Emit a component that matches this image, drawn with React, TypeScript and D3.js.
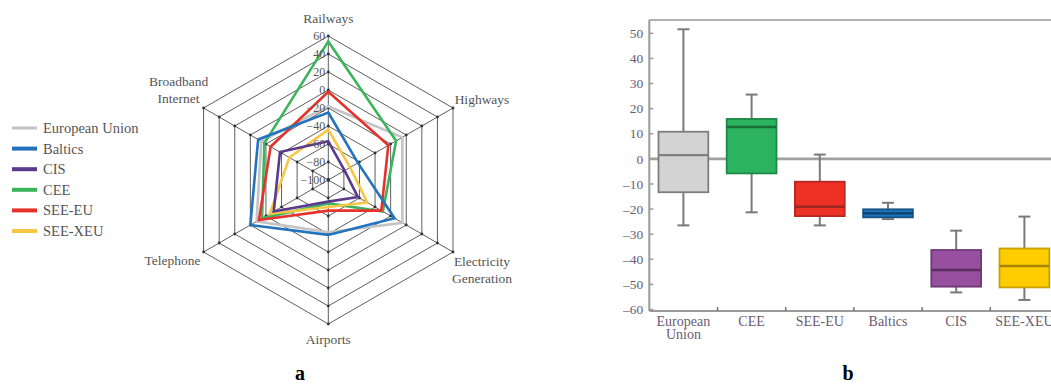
import React from "react";
import * as d3 from "d3";

// ---------- Radar data (a) ----------
const radarAxes = ["Railways", "Highways", "Electricity Generation", "Airports", "Telephone", "Broadband Internet"];
const radarTicks = [60, 40, 20, 0, -20, -40, -60, -80, -100];
const seriesNames = ["European Union", "Baltics", "CIS", "CEE", "SEE-EU", "SEE-XEU"];
const euValues = [-18, -5, -5, -42, -8, -14];
const balticsValues = [-25, -62, -15, -39, 0, -10];
const cisValues = [-57, -79, -62, -76, -30, -38];
const ceeValues = [54, -13, -30, -74, -15, -18];
const seeEuValues = [-2, -23, -32, -66, -11, -26];
const seeXeuValues = [-44, -72, -50, -70, -25, -50];

// ---------- Box plot data (b) ----------
const boxCategories = ["European Union", "CEE", "SEE-EU", "Baltics", "CIS", "SEE-XEU"];
const boxMin = [-26.5, -21.3, -26.5, -24, -53.2, -56.2];
const boxQ1 = [-13.3, -5.8, -22.8, -23.3, -50.9, -51.2];
const boxMedian = [1.5, 12.7, -19.1, -21.7, -44.3, -42.7];
const boxQ3 = [10.8, 15.9, -9.1, -20.1, -36.3, -35.7];
const boxMax = [51.6, 25.6, 1.7, -17.5, -28.6, -23];
const boxTicks = [50, 40, 30, 20, 10, 0, -10, -20, -30, -40, -50, -60];

// ---------- styles ----------
const seriesColors = ["#c4c4c4", "#2273bd", "#5b3a8e", "#3bb55c", "#e5322b", "#f7c645"];
const boxFill = ["#d3d3d3", "#2bb35f", "#ee3124", "#1f74b8", "#974f9f", "#ffcc00"];
const boxStroke = ["#7d7d7d", "#1f8a47", "#b32a22", "#155589", "#6f3a75", "#c9a100"];
const boxMedianColor = ["#808080", "#1a6b38", "#9c2620", "#0e426c", "#5a2e5f", "#a88400"];

const FONT = "'Liberation Serif', 'Times New Roman', serif";

function Radar() {
  const cx = 328.3, cy = 180, R = 144;
  const r = d3.scaleLinear().domain([-100, 60]).range([0, R]);
  const n = radarAxes.length;
  const angle = (i: number) => (i * 2 * Math.PI) / n;
  const pt = (i: number, rad: number): [number, number] => [
    cx + rad * Math.sin(angle(i)),
    cy - rad * Math.cos(angle(i)),
  ];
  const radial = d3
    .lineRadial<number>()
    .angle((_, i) => angle(i))
    .radius((d) => r(d))
    .curve(d3.curveLinearClosed);
  const allSeries = [euValues, balticsValues, cisValues, ceeValues, seeEuValues, seeXeuValues];
  const drawOrder = [0, 3, 5, 2, 4, 1];
  const rings = radarTicks.filter((t) => t > -100);

  // label layout: [dx, dy of first baseline, anchor]
  const labelLayout: [number, number, string][] = [
    [0, -13, "middle"],
    [29, -4, "middle"],
    [29, 14, "middle"],
    [0, 20, "middle"],
    [-31, 13, "middle"],
    [-25, -22, "middle"],
  ];

  return (
    <g>
      {rings.map((t) => (
        <path
          key={"ring" + t}
          d={radial(radarAxes.map(() => t)) || ""}
          transform={`translate(${cx},${cy})`}
          fill="none"
          stroke="#5e5e5e"
          strokeWidth={1}
        />
      ))}
      {radarAxes.map((_, i) => {
        const [x, y] = pt(i, R);
        return <line key={"sp" + i} x1={cx} y1={cy} x2={x} y2={y} stroke="#5e5e5e" strokeWidth={1} />;
      })}
      {radarAxes.map((_, i) =>
        radarTicks.map((t) => {
          const [x, y] = pt(i, r(t));
          return <circle key={"dot" + i + "_" + t} cx={x} cy={y} r={1.4} fill="#333" />;
        })
      )}
      {drawOrder.map((k) => (
        <path
          key={"s" + k}
          d={radial(allSeries[k]) || ""}
          transform={`translate(${cx},${cy})`}
          fill="none"
          stroke={seriesColors[k]}
          strokeWidth={2.6}
          strokeLinejoin="miter"
        />
      ))}
      {radarTicks.map((t) => (
        <text
          key={"tl" + t}
          x={cx - 3}
          y={cy - r(t)}
          dy="0.35em"
          textAnchor="end"
          fontSize={12}
          fill="#555"
          fontFamily={FONT}
        >
          {t < 0 ? "\u2212" + Math.abs(t) : String(t)}
        </text>
      ))}
      {radarAxes.map((name, i) => {
        const [x, y] = pt(i, R);
        const [dx, dy, anchor] = labelLayout[i];
        const words = name === "Electricity Generation" || name === "Broadband Internet" ? name.split(" ") : [name];
        return (
          <text key={"al" + i} x={x + dx} y={y + dy} textAnchor={anchor as any} fontSize={13.5} fill="#555" fontFamily={FONT}>
            {words.map((w, j) => (
              <tspan key={j} x={x + dx} dy={j === 0 ? 0 : 17}>
                {w}
              </tspan>
            ))}
          </text>
        );
      })}
      {seriesNames.map((s, k) => {
        const y = 128 + k * 20.6;
        return (
          <g key={"lg" + k}>
            <line x1={12} x2={37} y1={y} y2={y} stroke={seriesColors[k]} strokeWidth={k === 0 ? 3 : 4} />
            <text x={43} y={y} dy="0.35em" fontSize={14.5} fill="#555" fontFamily={FONT}>
              {s}
            </text>
          </g>
        );
      })}
      <text x={300} y={380} textAnchor="middle" fontSize={20} fontWeight="bold" fontFamily={FONT} fill="#000">
        a
      </text>
    </g>
  );
}

function BoxPlot() {
  const left = 649.3;
  const step = 68.2;
  const x = d3
    .scaleBand<string>()
    .domain(boxCategories)
    .range([left, left + step * boxCategories.length])
    .paddingInner(0)
    .paddingOuter(0);
  const y = d3.scaleLinear().domain([-60.6, 55.3]).range([311, 20]);
  const bw = x.bandwidth();
  const boxW = bw * 0.73;
  const capW = 12;
  const labelColor = "#6a5c72";
  const axisColor = "#9a9a9a";
  return (
    <g>
      <line x1={left} x2={1060} y1={y(55.3)} y2={y(55.3)} stroke="#b0b0b0" strokeWidth={2.2} />
      <line x1={left} x2={1060} y1={y(0)} y2={y(0)} stroke="#a0a0a0" strokeWidth={2.6} />
      {boxCategories.map((c, i) => {
        const cxp = (x(c) as number) + bw / 2;
        return (
          <g key={"b" + i}>
            <line x1={cxp} x2={cxp} y1={y(boxMax[i])} y2={y(boxQ3[i])} stroke="#7a7a7a" strokeWidth={2} />
            <line x1={cxp} x2={cxp} y1={y(boxQ1[i])} y2={y(boxMin[i])} stroke="#7a7a7a" strokeWidth={2} />
            <line x1={cxp - capW / 2} x2={cxp + capW / 2} y1={y(boxMax[i])} y2={y(boxMax[i])} stroke="#7a7a7a" strokeWidth={2} />
            <line x1={cxp - capW / 2} x2={cxp + capW / 2} y1={y(boxMin[i])} y2={y(boxMin[i])} stroke="#7a7a7a" strokeWidth={2} />
            <rect
              x={cxp - boxW / 2}
              y={y(boxQ3[i])}
              width={boxW}
              height={y(boxQ1[i]) - y(boxQ3[i])}
              fill={boxFill[i]}
              stroke={boxStroke[i]}
              strokeWidth={1.8}
            />
            <line
              x1={cxp - boxW / 2}
              x2={cxp + boxW / 2}
              y1={y(boxMedian[i])}
              y2={y(boxMedian[i])}
              stroke={boxMedianColor[i]}
              strokeWidth={2.4}
            />
          </g>
        );
      })}
      <line x1={left} x2={left} y1={y(55.3)} y2={311} stroke={axisColor} strokeWidth={2} />
      <line x1={left} x2={1060} y1={311} y2={311} stroke={axisColor} strokeWidth={2} />
      {boxTicks.map((t) => (
        <g key={"yt" + t}>
          <line x1={left} x2={left + 4} y1={y(t)} y2={y(t)} stroke={axisColor} strokeWidth={1.5} />
          <text x={left - 6} y={y(t)} dy="0.35em" textAnchor="end" fontSize={13.5} fill={labelColor} fontFamily={FONT}>
            {t < 0 ? "\u2013" + Math.abs(t) : String(t)}
          </text>
        </g>
      ))}
      {boxCategories.slice(1).map((c) => (
        <line key={"xt" + c} x1={x(c) as number} x2={x(c) as number} y1={311} y2={307} stroke="#777" strokeWidth={1.5} />
      ))}
      {boxCategories.map((c) => {
        const cxp = (x(c) as number) + bw / 2;
        const words = c === "European Union" ? ["European", "Union"] : [c];
        return (
          <text key={"xl" + c} x={cxp} y={326} textAnchor="middle" fontSize={14} fill={labelColor} fontFamily={FONT}>
            {words.map((w, j) => (
              <tspan key={j} x={cxp} dy={j === 0 ? 0 : 13}>
                {w}
              </tspan>
            ))}
          </text>
        );
      })}
      <text x={848} y={380} textAnchor="middle" fontSize={20} fontWeight="bold" fontFamily={FONT} fill="#000">
        b
      </text>
    </g>
  );
}

export default function App() {
  return (
    <svg
      width={1051}
      height={387}
      style={{ position: "absolute", left: 0, top: 0, background: "#fff" }}
    >
      <rect x={0} y={0} width={1051} height={387} fill="#fff" />
      <Radar />
      <BoxPlot />
    </svg>
  );
}
